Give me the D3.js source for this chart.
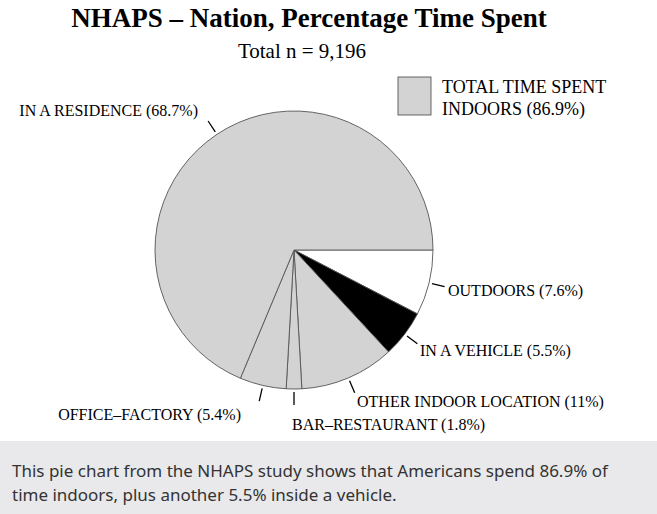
<!DOCTYPE html>
<html><head><meta charset="utf-8">
<script src="https://cdn.jsdelivr.net/npm/d3@7"></script>
<style>
body{margin:0;background:#fff;}
svg{display:block;}
</style></head>
<body><div id="chart"></div>
<script>
// ── DATA ─────────────────────────────────────────────────────────────────────
const categories = ['OUTDOORS', 'IN A VEHICLE', 'OTHER INDOOR LOCATION', 'BAR\u2013RESTAURANT', 'OFFICE\u2013FACTORY', 'IN A RESIDENCE'];
const values     = [7.6, 5.5, 11, 1.8, 5.4, 68.7];
const labels     = ['OUTDOORS (7.6%)', 'IN A VEHICLE (5.5%)', 'OTHER INDOOR LOCATION (11%)', 'BAR\u2013RESTAURANT (1.8%)', 'OFFICE\u2013FACTORY (5.4%)', 'IN A RESIDENCE (68.7%)'];
const fills      = ['#ffffff', '#000000', '#d3d3d3', '#d3d3d3', '#d3d3d3', '#d3d3d3'];

const W = 657, H = 514;
const cx = 294, cy = 250, R = 139;
const serif = '"Liberation Serif","Times New Roman",serif';

const svg = d3.select('#chart').append('svg').attr('width', W).attr('height', H);

svg.append('text').attr('x', 309).attr('y', 27).attr('text-anchor', 'middle')
  .attr('font-family', serif).attr('font-weight', 'bold').attr('font-size', 27)
  .text('NHAPS \u2013 Nation, Percentage Time Spent');
svg.append('text').attr('x', 302).attr('y', 58).attr('text-anchor', 'middle')
  .attr('font-family', serif).attr('font-size', 21)
  .text('Total n = 9,196');

// ── LEGEND ───────────────────────────────────────────────────────────────────
svg.append('rect').attr('x', 398).attr('y', 77).attr('width', 33).attr('height', 38)
  .attr('fill', '#d3d3d3').attr('stroke', '#444').attr('stroke-width', 0.8);
svg.append('text').attr('x', 442).attr('y', 93).attr('font-family', serif).attr('font-size', 18)
  .text('TOTAL TIME SPENT');
svg.append('text').attr('x', 442).attr('y', 115).attr('font-family', serif).attr('font-size', 18)
  .text('INDOORS (86.9%)');

// ── PIE ──────────────────────────────────────────────────────────────────────
const data = categories.map((c, i) => ({ c, v: values[i], label: labels[i], fill: fills[i] }));
const pie = d3.pie().value(d => d.v).sort(null)
  .startAngle(Math.PI / 2).endAngle(Math.PI / 2 + 2 * Math.PI);
const arcs = pie(data);
const arc = d3.arc().innerRadius(0).outerRadius(R);

const g = svg.append('g').attr('transform', `translate(${cx},${cy})`);
g.selectAll('path').data(arcs).join('path')
  .attr('d', arc).attr('fill', d => d.data.fill)
  .attr('stroke', '#555').attr('stroke-width', 0.9);

// label positions relative to pie centre
const labelPos = {
  'OUTDOORS':              { x: 154,  y: 46,  anchor: 'start' },
  'IN A VEHICLE':          { x: 126,  y: 106, anchor: 'start' },
  'OTHER INDOOR LOCATION': { x: 63,   y: 157, anchor: 'start' },
  'BAR\u2013RESTAURANT':   { x: -2,   y: 180, anchor: 'start' },
  'OFFICE\u2013FACTORY':   { x: -53,  y: 170, anchor: 'end' },
  'IN A RESIDENCE':        { x: -96,  y: -134, anchor: 'end' }
};

arcs.forEach(a => {
  const m = (a.startAngle + a.endAngle) / 2;
  const x1 = Math.sin(m) * (R + 3), y1 = -Math.cos(m) * (R + 3);
  const x2 = Math.sin(m) * (R + 16), y2 = -Math.cos(m) * (R + 16);
  g.append('line').attr('x1', x1).attr('y1', y1).attr('x2', x2).attr('y2', y2)
    .attr('stroke', '#000').attr('stroke-width', 1.3);
  const p = labelPos[a.data.c];
  g.append('text').attr('x', p.x).attr('y', p.y).attr('text-anchor', p.anchor)
    .attr('font-family', serif).attr('font-size', 16)
    .text(a.data.label);
});

// ── CAPTION ──────────────────────────────────────────────────────────────────
svg.append('rect').attr('x', 0).attr('y', 441).attr('width', W).attr('height', H - 441).attr('fill', '#e9e9eb');
svg.append('text').attr('x', 12).attr('y', 477).attr('font-family', '"Noto Sans",sans-serif')
  .attr('font-size', 17).attr('fill', '#333')
  .text('This pie chart from the NHAPS study shows that Americans spend 86.9% of');
svg.append('text').attr('x', 12).attr('y', 501).attr('font-family', '"Noto Sans",sans-serif')
  .attr('font-size', 17).attr('fill', '#333')
  .text('time indoors, plus another 5.5% inside a vehicle.');
</script></body></html>
